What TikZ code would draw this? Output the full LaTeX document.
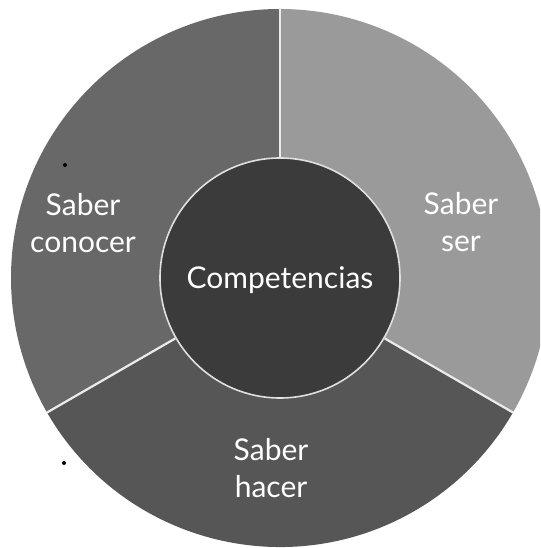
\documentclass[tikz,border=0pt]{standalone}
\usepackage{fontspec}
\setmainfont{Lato}
\usetikzlibrary{calc}
\definecolor{cconocer}{HTML}{686868}
\definecolor{cser}{HTML}{9A9A9A}
\definecolor{chacer}{HTML}{565656}
\definecolor{ccore}{HTML}{3B3B3B}
\begin{document}
\begin{tikzpicture}[x=1pt,y=1pt,
  lbl/.style={text=white,font=\fontsize{30}{37}\selectfont,align=center},
  divider/.style={draw=white!92!black,line width=2.2pt}]
\useasboundingbox (0,0) rectangle (540,548);
\clip (0,0) rectangle (540,548);
\coordinate (c) at (280,270);
% sectors
\fill[cconocer] (c) -- ++(90:269) arc[start angle=90,end angle=210,radius=269] -- cycle;
\fill[chacer] (c) -- ++(210:269) arc[start angle=210,end angle=330,radius=269] -- cycle;
\fill[cser] (c) -- ++(-30:269) arc[start angle=-30,end angle=90,radius=269] -- cycle;
% divider end points
\coordinate (o1) at ($(c)+(90:269)$);
\coordinate (o2) at ($(c)+(210:269)$);
\coordinate (o3) at ($(c)+(330:269)$);
\node[circle,fill=ccore,draw=white!88!black,line width=1.6pt,minimum size=240pt,inner sep=0pt] (core) at (c) {};
\draw[divider] (core.90) -- (o1);
\draw[divider] (core.210) -- (o2);
\draw[divider] (core.330) -- (o3);
\node[lbl] (comp) at (280,268) {Competencias};
\node[lbl] (conocer) at (83,325) {Saber\\conocer};
\node[lbl] (ser) at (461,326) {Saber\\ser};
\node[lbl] (hacer) at (271,80) {Saber\\hacer};
% scan specks
\fill[black] (65,383) circle (2);
\fill[black] (64,85) circle (2);
\end{tikzpicture}
\end{document}
